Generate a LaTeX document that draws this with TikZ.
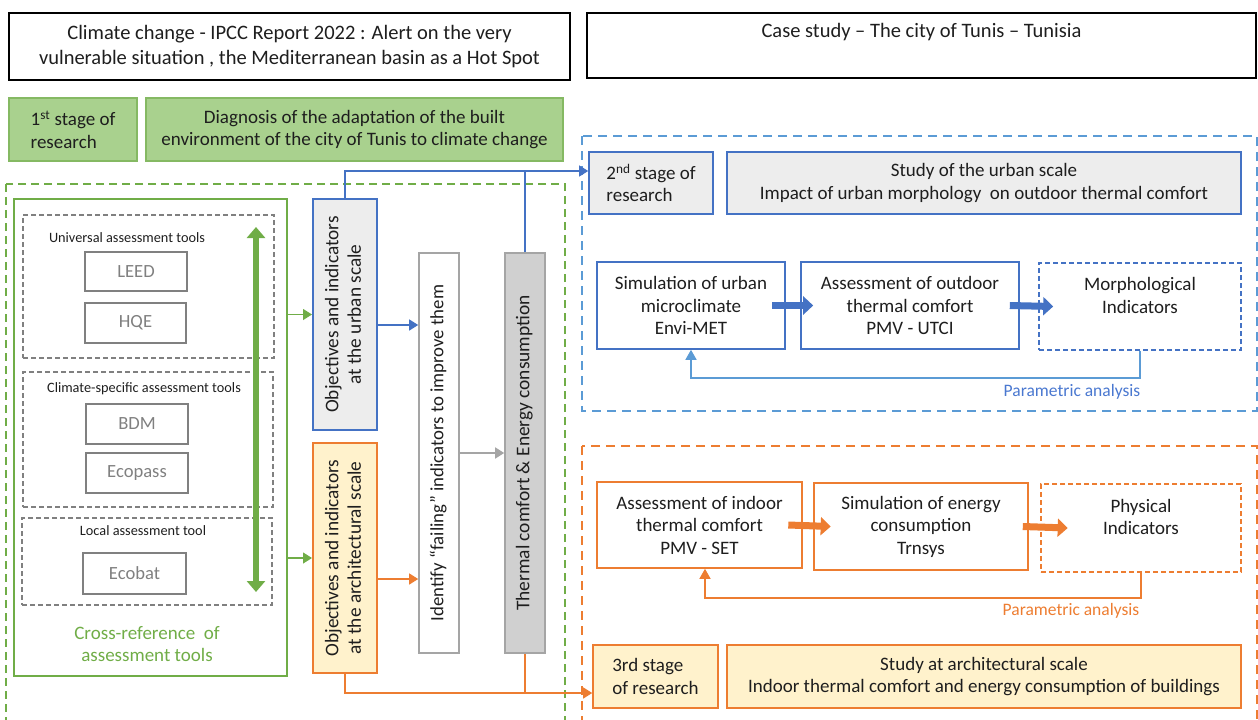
\documentclass[tikz,border=0pt]{standalone}
\usepackage{fontspec}
\usepackage{graphicx}
\setmainfont{Carlito}
\usetikzlibrary{arrows.meta,calc}
\definecolor{oblue}{HTML}{4472C4}
\definecolor{lblue}{HTML}{5B9BD5}
\definecolor{oorange}{HTML}{ED7D31}
\definecolor{ogreen}{HTML}{70AD47}
\definecolor{gfill}{HTML}{A9D18E}
\definecolor{lgray}{HTML}{EDEDED}
\definecolor{ofill}{HTML}{FFF2CC}
\definecolor{mgray}{HTML}{A5A5A5}
\definecolor{tgray}{HTML}{808080}
\definecolor{thfill}{HTML}{D0D0D0}
\definecolor{partxt}{HTML}{4A78D0}
\definecolor{txt}{HTML}{1E1E1E}
\newcommand\fsmain{\fontsize{19}{22.5}\selectfont}
\newcommand\fstop{\fontsize{20.5}{24.5}\selectfont}
\newcommand\fssmall{\fontsize{14.3}{17}\selectfont}
\newcommand\fstool{\fontsize{18.6}{22}\selectfont}
\newcommand\fspar{\fontsize{17.5}{20}\selectfont}
\newcommand\fsrot{\fontsize{19.3}{22.5}\selectfont}
\newcommand\fsid{\fontsize{18.8}{22}\selectfont}
\newcommand\fsbig{\fontsize{19.4}{22}\selectfont}
\newcommand\vtext[1]{\rotatebox{90}{\begin{tabular}{@{}c@{}}#1\end{tabular}}}
\begin{document}
\begin{tikzpicture}[x=1pt,y=-1pt,
  box/.style={draw, rectangle, line width=1.6pt, inner sep=0pt, align=center, font=\fsmain, text=txt},
  gbox/.style={box, draw=ogreen!85, fill=gfill},
  dbox/.style={draw=tgray, line width=1.5pt, dash pattern=on 5pt off 3pt, inner sep=0pt},
  tbox/.style={draw=tgray, line width=1.5pt, inner sep=0pt, text=tgray, font=\fstool},
  lbl/.style={font=\fssmall, text=txt, inner sep=0pt},
  garr/.style={ogreen, line width=1.2pt, -{Triangle[length=9pt,width=11pt]}},
  barr/.style={oblue, line width=1.2pt, -{Triangle[length=9pt,width=11pt]}},
  oarr/.style={oorange, line width=1.2pt, -{Triangle[length=9pt,width=11pt]}},
  grarr/.style={mgray, line width=1.5pt, -{Triangle[length=9pt,width=11pt]}},
  bblk/.style={oblue, line width=7pt, -{Triangle[length=10pt,width=18pt]}},
  oblk/.style={oorange, line width=7pt, -{Triangle[length=10pt,width=18pt]}},
  par/.style={font=\fspar, inner sep=0pt}
]
\useasboundingbox (0,0) rectangle (1258,720);

% containers
\draw[ogreen, line width=1.8pt, dash pattern=on 8pt off 5pt] (6,184) rectangle (565,740);
\draw[lblue, line width=1.8pt, dash pattern=on 9pt off 6pt] (582,136) rectangle (1257,411);
\draw[oorange, line width=1.8pt, dash pattern=on 9pt off 6pt] (582,446) rectangle (1257,740);

% top boxes
\node[box, draw=black, line width=1.8pt, minimum width=561pt, minimum height=67pt, font=\fstop] (ipcc) at (289.5,46.5)
  {Climate change - IPCC Report 2022 : Alert on the very\\vulnerable situation , the Mediterranean basin as a Hot Spot};
\node[box, draw=black, line width=1.8pt, minimum width=669pt, minimum height=65pt,
  label={[anchor=north, yshift=-11pt, font=\fstop, text=txt, inner sep=0pt]north:Case study -- The city of Tunis -- Tunisia}] (case) at (921.5,45.5) {};

% stage 1
\node[gbox, minimum width=128pt, minimum height=63pt, align=left] (s1) at (73,129.5) {1\textsuperscript{st} stage of\\research};
\node[gbox, minimum width=417pt, minimum height=63pt] (diag) at (354.5,129.5)
  {Diagnosis of the adaptation of the built\\environment of the city of Tunis to climate change};

% cross-reference
\node[draw=ogreen, line width=1.8pt, minimum width=273pt, minimum height=477pt, inner sep=0pt] (cross) at (150.5,437.5) {};
\node[font=\fsmain, text=ogreen, align=center, inner sep=0pt] (crosstxt) at (147,644) {Cross-reference\ \ of\\assessment tools};

\node[dbox, minimum width=251pt, minimum height=143pt] (univ) at (148.5,286.5) {};
\node[dbox, minimum width=250pt, minimum height=135pt] (clim) at (148,439.5) {};
\node[dbox, minimum width=250pt, minimum height=87pt] (local) at (147,561.5) {};
\node[lbl] (univl) at (127,238) {Universal assessment tools};
\node[lbl] (climl) at (144,389) {Climate-specific assessment tools};
\node[lbl] (locall) at (143,531) {Local assessment tool};

\node[tbox, minimum width=102pt, minimum height=39pt] (leed) at (136,271.5) {LEED};
\node[tbox, minimum width=101pt, minimum height=40pt] (hqe) at (135.5,323) {HQE};
\node[tbox, minimum width=102pt, minimum height=40pt] (bdm) at (137,424) {BDM};
\node[tbox, minimum width=102pt, minimum height=40pt] (ecopass) at (137,473) {Ecopass};
\node[tbox, minimum width=103pt, minimum height=41pt] (ecobat) at (134.5,573.5) {Ecobat};

\coordinate (dtop) at (256,227);
\coordinate (dbot) at (256,592);
\draw[ogreen, line width=6pt, {Triangle[length=11pt,width=18pt]}-{Triangle[length=11pt,width=18pt]}] (dtop) -- (dbot);

% objectives
\node[box, draw=oblue, fill=lgray, line width=2pt, font=\fsrot, minimum width=64pt, minimum height=231pt] (urban) at (345,314.5)
  {\vtext{Objectives and indicators\\at the urban scale}};
\node[box, draw=oorange, fill=ofill, line width=2pt, font=\fsrot, minimum width=64pt, minimum height=230pt] (arch) at (345,558)
  {\vtext{Objectives and indicators\\at the architectural scale}};
\node[box, draw=mgray, font=\fsid, minimum width=40pt, minimum height=400pt] (ident) at (439,453)
  {\vtext{Identify “failing” indicators to improve them}};
\node[box, draw=mgray, fill=thfill, font=\fsbig, minimum width=40pt, minimum height=400pt] (thermal) at (525,453)
  {\vtext{Thermal comfort \& Energy consumption}};

\draw[garr] (cross.east |- urban.west) -- (urban.west);
\draw[garr] (cross.east |- arch.west) -- (arch.west);
\draw[barr] ([yshift=-10.5pt]urban.east) coordinate (ua) -- (ua -| ident.west);
\draw[oarr] ([yshift=-21pt]arch.east) coordinate (oa) -- (oa -| ident.west);
\draw[grarr] (ident.east) -- (thermal.west);

% stage 2
\node[box, draw=oblue, fill=lgray, minimum width=124pt, minimum height=62pt, align=left] (stage2) at (651,183) {2\textsuperscript{nd} stage of\\research};
\node[box, draw=oblue, fill=lgray, minimum width=514pt, minimum height=62pt] (study2) at (984,183)
  {Study of the urban scale\\Impact of urban morphology\ \ on outdoor thermal comfort};
\node[box, draw=oblue, minimum width=188pt, minimum height=87pt] (sim) at (691,305.5) {Simulation of urban\\microclimate\\Envi-MET};
\node[box, draw=oblue, minimum width=218pt, minimum height=87pt] (outdoor) at (910,305.5) {Assessment of outdoor\\thermal comfort\\PMV - UTCI};
\node[box, draw=oblue, dash pattern=on 5pt off 3pt, minimum width=202pt, minimum height=87pt] (morph) at (1140,306.5) {Morphological\\Indicators\\\mbox{}};

\draw[bblk] ([xshift=-13.5pt]sim.east) -- ([xshift=13pt]outdoor.west);
\draw[bblk] ([xshift=-10pt]outdoor.east) -- ([xshift=15pt]morph.west);
\coordinate (fb) at ([yshift=-28pt]sim.south);
\draw[lblue, line width=1.5pt, -{Triangle[length=10pt,width=11pt]}] (morph.south) |- (fb) -- (sim.south);
\node[par, text=partxt] (par1) at (1072,392) {Parametric analysis};

% links
\coordinate (bl) at ([yshift=12pt]stage2.west);
\draw[barr] (urban.north) |- (bl);
\draw[oblue, line width=1.2pt] (thermal.north) -- (thermal.north |- bl);

% stage 3
\node[box, draw=oorange, minimum width=205pt, minimum height=86pt] (indoor) at (699.5,525) {Assessment of indoor\\thermal comfort\\PMV - SET};
\node[box, draw=oorange, minimum width=214pt, minimum height=87pt] (energy) at (921,526.5) {Simulation of energy\\consumption\\Trnsys};
\node[box, draw=oorange, dash pattern=on 5pt off 3pt, minimum width=200pt, minimum height=88pt] (phys) at (1141,528) {Physical\\Indicators\\\mbox{}};
\draw[oblk] ([xshift=-14.5pt]indoor.east) -- ([xshift=17.5pt]energy.west);
\draw[oblk] ([xshift=-6pt]energy.east) -- ([xshift=27.5pt]phys.west);
\coordinate (fo) at ([xshift=5.5pt,yshift=-29pt]indoor.south);
\draw[oorange, line width=1.5pt, -{Triangle[length=10pt,width=11pt]}] (phys.south) |- (fo) -- ([xshift=5.5pt]indoor.south);
\node[par, text=oorange] (par2) at (1071,611) {Parametric analysis};

\node[box, draw=oorange, fill=ofill, minimum width=125pt, minimum height=63pt, align=left] (stage3) at (655.5,676.5) {3rd stage\\of research};
\node[box, draw=oorange, fill=ofill, minimum width=514pt, minimum height=63pt] (study3) at (984,676.5)
  {Study at architectural scale\\Indoor thermal comfort and energy consumption of buildings};

\coordinate (ol) at ([yshift=-16.5pt]stage3.west);
\draw[oarr] (arch.south) |- (ol);
\draw[oorange, line width=1.2pt] (thermal.south) -- (thermal.south |- ol);
\end{tikzpicture}
\end{document}
